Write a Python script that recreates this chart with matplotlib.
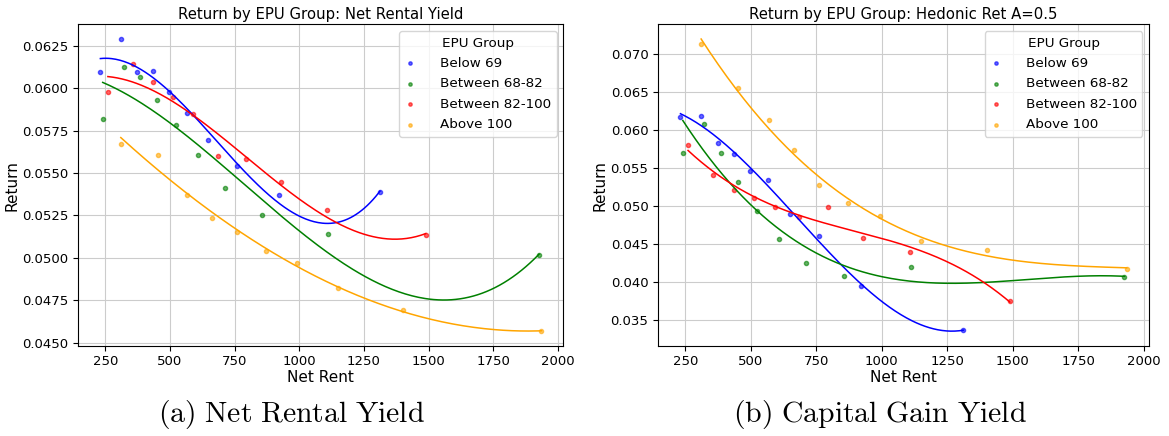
import matplotlib
matplotlib.use("Agg")
import matplotlib.pyplot as plt
import numpy as np

plt.rcParams["mathtext.fontset"] = "cm"

groups = ["Below 69", "Between 68-82", "Between 82-100", "Above 100"]
colors = ["blue", "green", "red", "orange"]

# mean net rent per bin, one list per EPU group
rent_below69 = [231, 309.5, 372.5, 435, 495, 567, 648.5, 759, 921.5, 1312]
rent_68_82 = [240, 321, 385, 451, 523, 607.5, 711.5, 857, 1110, 1927]
rent_82_100 = [260, 355.7, 436, 510, 591, 683.8, 795, 928.6, 1107.5, 1489]
rent_above100 = [310, 452.5, 567.3, 664, 760, 870, 991.5, 1151, 1402, 1936]

# net rental yield
nry_below69 = [0.06095, 0.0629, 0.06093, 0.06103, 0.05979, 0.05851, 0.05694, 0.05542, 0.0537, 0.05386]
nry_68_82 = [0.05818, 0.06124, 0.06064, 0.0593, 0.05781, 0.05606, 0.05409, 0.0525, 0.05142, 0.05014]
nry_82_100 = [0.05977, 0.06142, 0.06034, 0.05946, 0.05847, 0.05598, 0.05584, 0.05448, 0.05281, 0.05132]
nry_above100 = [0.05669, 0.05604, 0.05372, 0.05236, 0.05153, 0.0504, 0.0497, 0.04823, 0.0469, 0.04568]

# hedonic return, A=0.5
hed_below69 = [0.06175, 0.06188, 0.05833, 0.05693, 0.05464, 0.05342, 0.04891, 0.04601, 0.03947, 0.03368]
hed_68_82 = [0.05697, 0.06088, 0.05697, 0.05316, 0.0493, 0.04562, 0.04254, 0.04079, 0.04197, 0.04062]
hed_82_100 = [0.05807, 0.05404, 0.05211, 0.05105, 0.04983, 0.04855, 0.04983, 0.04583, 0.04391, 0.03754]
hed_above100 = [0.07132, 0.06553, 0.06132, 0.05737, 0.0528, 0.05036, 0.04872, 0.04536, 0.04417, 0.04175]

rents = [rent_below69, rent_68_82, rent_82_100, rent_above100]
panels = [
    ("Return by EPU Group: Net Rental Yield", [nry_below69, nry_68_82, nry_82_100, nry_above100],
     r"$\mathrm{(a)\ Net\ Rental\ Yield}$"),
    ("Return by EPU Group: Hedonic Ret A=0.5", [hed_below69, hed_68_82, hed_82_100, hed_above100],
     r"$\mathrm{(b)\ Capital\ Gain\ Yield}$"),
]

fig = plt.figure(figsize=(11.69, 4.36), dpi=100)
ax_left = fig.add_axes([0.067, 0.207, 0.415, 0.737])
ax_right = fig.add_axes([0.563, 0.207, 0.420, 0.737])

for ax, (title, returns, caption), cx in zip([ax_left, ax_right], panels, [0.249, 0.753]):
    for name, color, x, y in zip(groups, colors, rents, returns):
        x = np.asarray(x, dtype=float)
        y = np.asarray(y, dtype=float)
        ax.scatter(x, y, s=9, color=color, alpha=0.6, label=name)
        # cubic trend through the group means
        coef = np.polyfit(x, y, 3)
        xs = np.linspace(x.min(), x.max(), 200)
        ax.plot(xs, np.polyval(coef, xs), color=color, linewidth=1.1)
    ax.set_title(title, fontsize=10.7, pad=4)
    ax.set_xlabel("Net Rent", fontsize=11, labelpad=1)
    ax.set_ylabel("Return", fontsize=11, labelpad=2)
    ax.tick_params(labelsize=9.5)
    ax.set_xticks([250, 500, 750, 1000, 1250, 1500, 1750, 2000])
    ax.grid(True, color="#cccccc", linewidth=0.8)
    ax.set_axisbelow(True)
    ax.legend(title="EPU Group", loc="upper right", fontsize=9.7, title_fontsize=9.7,
              markerscale=0.8, handlelength=0.8, handletextpad=1.85, labelspacing=0.55)
    fig.text(cx, 0.05, caption, ha="center", va="center", fontsize=21.4)

fig.savefig("out.png", dpi=100)
